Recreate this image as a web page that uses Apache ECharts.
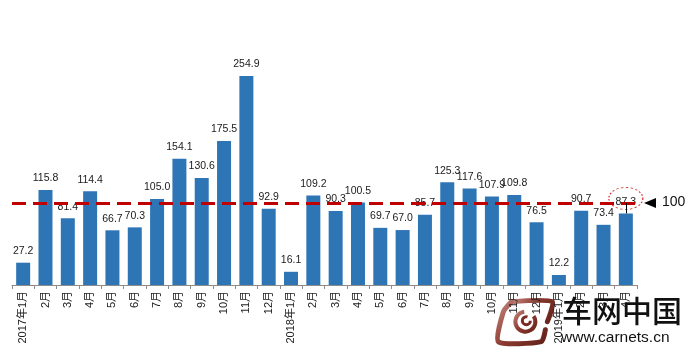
<!DOCTYPE html>
<html><head><meta charset="utf-8">
<script src="https://cdn.jsdelivr.net/npm/echarts@6/dist/echarts.min.js"></script>
<style>html,body{margin:0;padding:0;background:#fff}#c{width:692px;height:354px}</style>
</head><body><div id="c"></div>
<script>
var categories = ['2017年1月','2月','3月','4月','5月','6月','7月','8月','9月','10月','11月','12月',
  '2018年1月','2月','3月','4月','5月','6月','7月','8月','9月','10月','11月','12月',
  '2019年1月','2月','3月','4月'];
var values = [27.2,115.8,81.4,114.4,66.7,70.3,105.0,154.1,130.6,175.5,254.9,92.9,
  16.1,109.2,90.3,100.5,69.7,67.0,85.7,125.3,117.6,107.9,109.8,76.5,
  12.2,90.7,73.4,87.3];
var reference = 100;
var lastIndex = values.length - 1;

var chart = echarts.init(document.getElementById('c'), null, {renderer:'canvas'});
var option = {
  animation:false,
  backgroundColor:'#fff',
  grid:{left:12,right:55,top:39,bottom:69},
  xAxis:{type:'category',data:categories,
    axisLine:{lineStyle:{color:'#8c8c8c',width:1}},
    axisTick:{show:true,length:4,lineStyle:{color:'#8c8c8c'}},
    axisLabel:{rotate:90,interval:0,fontSize:11,color:'#222',margin:6,
      fontFamily:'"Liberation Sans","Noto Sans CJK SC",sans-serif'}},
  yAxis:{type:'value',min:0,max:300,show:false,splitLine:{show:false}},
  series:[{
    type:'bar',data:values,barWidth:14,
    itemStyle:{color:'#2E75B6'},
    label:{show:true,position:'top',distance:6,fontSize:10.5,color:'#1a1a1a',
      fontFamily:'"Liberation Sans",sans-serif',
      formatter:function(p){return p.value.toFixed(1);}},
    markLine:{silent:true,symbol:'none',z:10,label:{show:false},
      data:[
        {yAxis:reference,lineStyle:{color:'#C00000',width:3,type:[14,7]}},
        [{coord:[lastIndex,values[lastIndex]],lineStyle:{color:'#000',width:1,type:'solid'}},
         {coord:[lastIndex,reference]}]
      ]},
    markPoint:{silent:true,label:{show:false},
      data:[{coord:[lastIndex,values[lastIndex]],symbol:'circle',symbolSize:[34,22],symbolOffset:[0,-15],
        itemStyle:{color:'rgba(0,0,0,0)',borderColor:'#D03030',borderWidth:1,borderType:[2,2]}}]}
  }]
};
chart.setOption(option);

var rect = chart.getModel().getComponent('grid').coordinateSystem.getRect();
var yRef = chart.convertToPixel({gridIndex:0},[0,reference])[1];
var xEnd = rect.x + rect.width;
var brown = {type:'linear',x:0,y:0,x2:1,y2:1,colorStops:[{offset:0,color:'#c98f86'},{offset:0.5,color:'#8c3a30'},{offset:1,color:'#5e1f18'}]};
chart.setOption({graphic:[
  {type:'polygon',shape:{points:[[xEnd+7,yRef],[xEnd+19,yRef-5],[xEnd+19,yRef+5]]},style:{fill:'#000'},z:100},
  {type:'text',left:xEnd+25,top:yRef-8,style:{text:String(reference),fontSize:14,fill:'#111',
    font:'14px "Liberation Sans",sans-serif'},z:100},
  {type:'group',left:495,top:298,z:100,children:[
    {type:'polyline',shape:{points:[[16,4],[57,4],[52,24]],smooth:0.2},style:{stroke:brown,lineWidth:5,fill:null,lineJoin:'round',lineCap:'round'}},
    {type:'polyline',shape:{points:[[16,4],[8,14],[3,44],[46,44],[50,32]],smooth:0.2},style:{stroke:brown,lineWidth:5,fill:null,lineJoin:'round',lineCap:'round'}},
    {type:'arc',shape:{cx:30,cy:24,r:10,startAngle:-0.6,endAngle:4.6},style:{stroke:brown,lineWidth:4,fill:null}},
    {type:'arc',shape:{cx:31,cy:23,r:4,startAngle:0,endAngle:5},style:{stroke:'#7a2a22',lineWidth:3,fill:null}}
  ]},
  {type:'text',left:562,top:296,z:100,style:{text:'车网中国',font:'500 30px "Noto Sans CJK SC",sans-serif',fill:'#111'}},
  {type:'text',left:561,top:330,z:100,style:{text:'www.carnets.cn',font:'15.5px "Liberation Sans",sans-serif',fill:'#111'}}
]});
</script></body></html>
